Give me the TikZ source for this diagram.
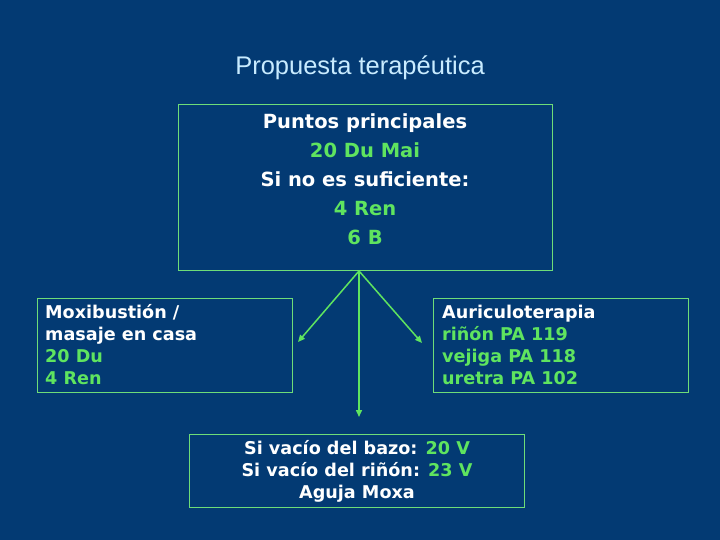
\documentclass[tikz,border=0pt]{standalone}
\usepackage{fontspec}
\setmainfont{DejaVu Sans}
\newfontfamily\titlefont{Liberation Sans}
\usetikzlibrary{arrows.meta}
\definecolor{bg}{RGB}{3,58,115}
\definecolor{grn}{RGB}{95,228,95}
\definecolor{brd}{RGB}{110,220,120}
\definecolor{ttl}{RGB}{200,235,255}
\begin{document}
\begin{tikzpicture}[x=1pt,y=-1pt,
  box/.style={draw=brd,line width=1pt},
  txt/.style={text=white,font=\bfseries\fontsize{19.5}{29}\selectfont,inner sep=0pt},
  stxt/.style={text=white,font=\bfseries\fontsize{17.6}{22}\selectfont,inner sep=0pt},
  conn/.style={draw=grn,line width=1.5pt,-{Triangle[length=7pt,width=6pt]}}]
\fill[bg] (0,0) rectangle (720,540);
\useasboundingbox (0,0) rectangle (720,540);
\node[text=ttl,font=\titlefont\fontsize{25.5}{28}\selectfont] (title) at (360,68) {Propuesta terapéutica};
\node[box,minimum width=374pt,minimum height=165pt] (top) at (365,187.5) {};
\node[txt,align=center,anchor=north] (toptxt) at (365,113) {Puntos principales\\\textcolor{grn}{20 Du Mai}\\Si no es suficiente:\\\textcolor{grn}{4 Ren}\\\textcolor{grn}{6 B}};
\node[box,minimum width=255pt,minimum height=94pt] (left) at (164.5,345) {};
\node[stxt,align=left,anchor=north west] (lefttxt) at (45,304) {Moxibustión /\\masaje en casa\\\textcolor{grn}{20 Du}\\\textcolor{grn}{4 Ren}};
\node[box,minimum width=255pt,minimum height=94pt] (right) at (560.5,345) {};
\node[stxt,align=left,anchor=north west] (righttxt) at (442,305) {Auriculoterapia\\\textcolor{grn}{riñón PA 119}\\\textcolor{grn}{vejiga PA 118}\\\textcolor{grn}{uretra PA 102}};
\node[box,minimum width=335pt,minimum height=73pt] (bot) at (356.5,470.5) {};
\node[stxt,align=center,anchor=north] (bottxt) at (357,440) {Si vacío del bazo: \textcolor{grn}{20 V}\\Si vacío del riñón: \textcolor{grn}{23 V}\\Aguja Moxa};
\coordinate (o) at (359,271);
\coordinate (lend) at (298,342);
\coordinate (rend) at (422,343);
\coordinate (dend) at (359,417);
\draw[conn] (o) -- (lend);
\draw[conn] (o) -- (rend);
\draw[conn] (o) -- (dend);
\end{tikzpicture}
\end{document}
